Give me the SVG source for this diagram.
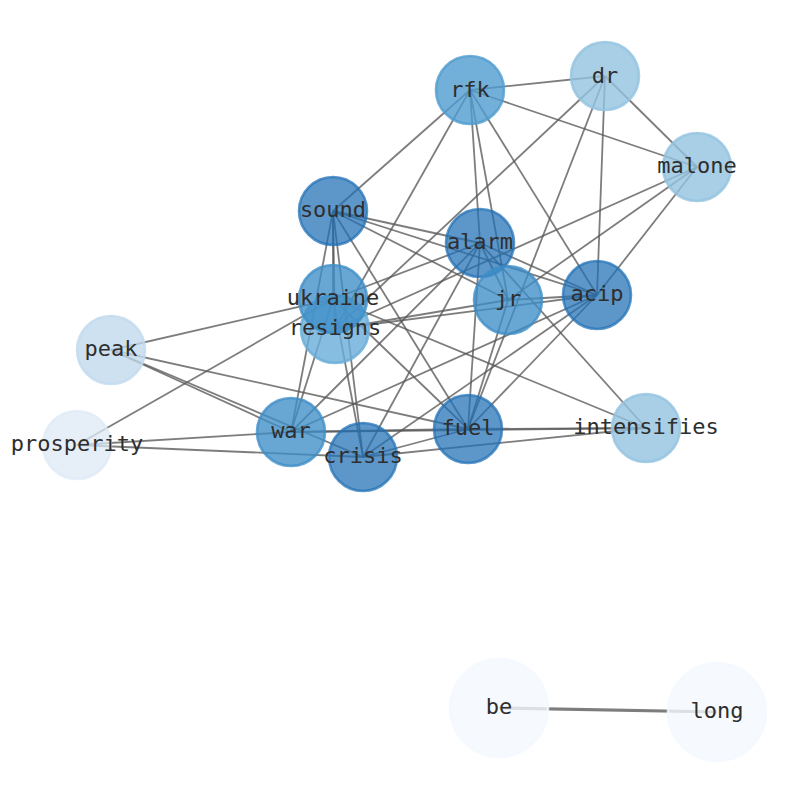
<svg xmlns="http://www.w3.org/2000/svg" width="794" height="790" viewBox="0 0 794 790">
<style>
.e{stroke:#595959;stroke-opacity:0.78;stroke-width:1.8;fill:none}
.n circle{stroke-width:2.6}
.n text{font-family:"DejaVu Sans Mono","Liberation Mono",monospace;font-size:22px;fill:#2e2e2e;text-anchor:middle}
.c1 circle{fill:#2171b5;stroke:#2171b5;fill-opacity:0.73;stroke-opacity:0.73}
.c2 circle{fill:#3d8dc6;stroke:#3d8dc6;fill-opacity:0.78;stroke-opacity:0.78}
.c3 circle{fill:#4f9ccf;stroke:#4f9ccf;fill-opacity:0.8;stroke-opacity:0.8}
.c4 circle{fill:#68acd8;stroke:#68acd8;fill-opacity:0.8;stroke-opacity:0.8}
.c5 circle{fill:#92c3e0;stroke:#92c3e0;fill-opacity:0.8;stroke-opacity:0.8}
.c6 circle{fill:#c2d9ee;stroke:#c2d9ee;fill-opacity:0.8;stroke-opacity:0.8}
.c7 circle{fill:#dde9f6;stroke:#dde9f6;fill-opacity:0.75;stroke-opacity:0.75}
.c8 circle{fill:#f4f9ff;stroke:#f4f9ff;fill-opacity:0.8;stroke-opacity:0.8}
</style>
<rect width="794" height="790" fill="#fff"/>
<g id="edges">
<line class="e" x1="470" y1="90" x2="605" y2="76"/>
<line class="e" x1="470" y1="90" x2="697" y2="167"/>
<line class="e" x1="470" y1="90" x2="333" y2="211"/>
<line class="e" x1="470" y1="90" x2="335" y2="329"/>
<line class="e" x1="470" y1="90" x2="480" y2="243"/>
<line class="e" x1="470" y1="90" x2="508" y2="300"/>
<line class="e" x1="470" y1="90" x2="597" y2="295"/>
<line class="e" x1="605" y1="76" x2="697" y2="167"/>
<line class="e" x1="605" y1="76" x2="597" y2="295"/>
<line class="e" x1="605" y1="76" x2="335" y2="329"/>
<line class="e" x1="605" y1="76" x2="468" y2="429"/>
<line class="e" x1="697" y1="167" x2="335" y2="329"/>
<line class="e" x1="697" y1="167" x2="508" y2="300"/>
<line class="e" x1="697" y1="167" x2="597" y2="295"/>
<line class="e" x1="333" y1="211" x2="333" y2="299"/>
<line class="e" x1="333" y1="211" x2="335" y2="329"/>
<line class="e" x1="333" y1="211" x2="291" y2="432"/>
<line class="e" x1="333" y1="211" x2="363" y2="457"/>
<line class="e" x1="333" y1="211" x2="480" y2="243"/>
<line class="e" x1="333" y1="211" x2="597" y2="295"/>
<line class="e" x1="333" y1="211" x2="508" y2="300"/>
<line class="e" x1="333" y1="211" x2="468" y2="429"/>
<line class="e" x1="480" y1="243" x2="333" y2="299"/>
<line class="e" x1="480" y1="243" x2="508" y2="300"/>
<line class="e" x1="480" y1="243" x2="597" y2="295"/>
<line class="e" x1="480" y1="243" x2="291" y2="432"/>
<line class="e" x1="480" y1="243" x2="363" y2="457"/>
<line class="e" x1="480" y1="243" x2="468" y2="429"/>
<line class="e" x1="480" y1="243" x2="646" y2="428"/>
<line class="e" x1="508" y1="300" x2="597" y2="295"/>
<line class="e" x1="508" y1="300" x2="335" y2="329"/>
<line class="e" x1="508" y1="300" x2="468" y2="429"/>
<line class="e" x1="597" y1="295" x2="335" y2="329"/>
<line class="e" x1="597" y1="295" x2="468" y2="429"/>
<line class="e" x1="597" y1="295" x2="363" y2="457"/>
<line class="e" x1="597" y1="295" x2="291" y2="432"/>
<line class="e" x1="333" y1="299" x2="111" y2="350"/>
<line class="e" x1="333" y1="299" x2="77" y2="445"/>
<line class="e" x1="333" y1="299" x2="291" y2="432"/>
<line class="e" x1="333" y1="299" x2="363" y2="457"/>
<line class="e" x1="333" y1="299" x2="468" y2="429"/>
<line class="e" x1="333" y1="299" x2="646" y2="428"/>
<line class="e" x1="111" y1="350" x2="291" y2="432"/>
<line class="e" x1="111" y1="350" x2="363" y2="457"/>
<line class="e" x1="111" y1="350" x2="468" y2="429"/>
<line class="e" x1="77" y1="445" x2="291" y2="432"/>
<line class="e" x1="77" y1="445" x2="363" y2="457"/>
<line class="e" x1="291" y1="432" x2="468" y2="429"/>
<line class="e" x1="291" y1="432" x2="646" y2="428"/>
<line class="e" x1="468" y1="429" x2="646" y2="428"/>
<line class="e" x1="363" y1="457" x2="468" y2="429"/>
<line class="e" x1="363" y1="457" x2="646" y2="428"/>
<line class="e" x1="499" y1="708" x2="717" y2="712" style="stroke-width:3.2"/>
</g>
<g id="nodes">
<g id="n-rfk" class="n c3"><circle cx="470" cy="90" r="34"/><text x="470" y="97">rfk</text></g>
<g id="n-dr" class="n c5"><circle cx="605" cy="76" r="34"/><text x="605" y="83">dr</text></g>
<g id="n-malone" class="n c5"><circle cx="697" cy="167" r="34"/><text x="697" y="173">malone</text></g>
<g id="n-sound" class="n c1"><circle cx="333" cy="211" r="34"/><text x="333" y="217">sound</text></g>
<g id="n-alarm" class="n c1"><circle cx="480" cy="243" r="34"/><text x="480" y="249">alarm</text></g>
<g id="n-jr" class="n c2"><circle cx="508" cy="300" r="34"/><text x="508" y="306">jr</text></g>
<g id="n-acip" class="n c1"><circle cx="597" cy="295" r="34"/><text x="597" y="301">acip</text></g>
<g id="n-resigns" class="n c4"><circle cx="335" cy="329" r="34"/></g>
<g id="n-ukraine" class="n c2"><circle cx="333" cy="299" r="34"/><text x="333" y="305">ukraine</text></g>
<g id="n-resigns-label" class="n"><text x="335" y="335">resigns</text></g>
<g id="n-peak" class="n c6"><circle cx="111" cy="350" r="34"/><text x="111" y="356">peak</text></g>
<g id="n-prosperity" class="n c7"><circle cx="77" cy="445" r="34"/><text x="77" y="451">prosperity</text></g>
<g id="n-war" class="n c2"><circle cx="291" cy="432" r="34"/><text x="291" y="438">war</text></g>
<g id="n-crisis" class="n c1"><circle cx="363" cy="457" r="34"/><text x="363" y="463">crisis</text></g>
<g id="n-fuel" class="n c1"><circle cx="468" cy="429" r="34"/><text x="468" y="435">fuel</text></g>
<g id="n-intensifies" class="n c5"><circle cx="646" cy="428" r="34"/><text x="646" y="434">intensifies</text></g>
<g id="n-be" class="n c8"><circle cx="499" cy="708" r="49"/><text x="499" y="714">be</text></g>
<g id="n-long" class="n c8"><circle cx="717" cy="712" r="49"/><text x="717" y="718">long</text></g>
</g>
</svg>
